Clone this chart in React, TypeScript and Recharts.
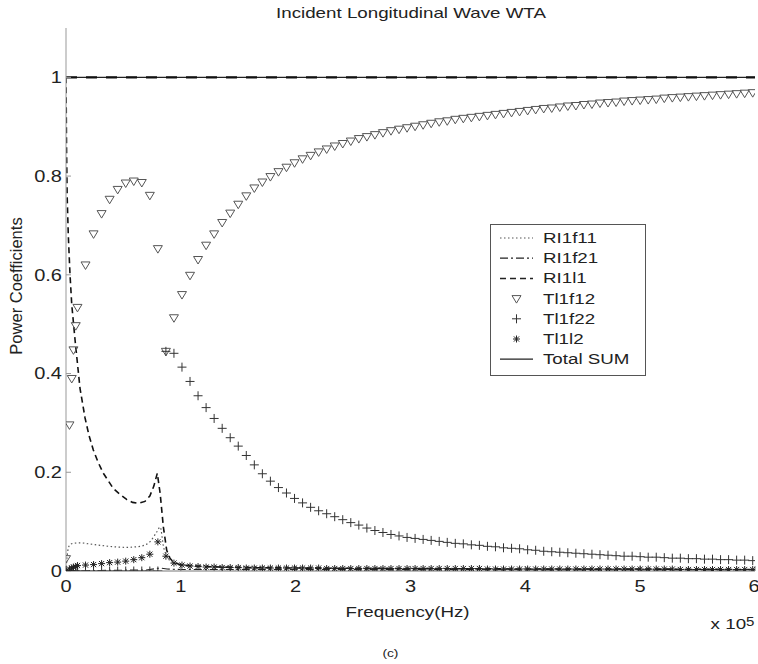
import { ComposedChart, Line, Scatter, XAxis, YAxis } from "recharts";

// frequency grid (x 10^5 Hz) used by the marker series
const freq = [
  0, 0.03, 0.05, 0.065, 0.085, 0.1,
  0.17, 0.24, 0.31, 0.38, 0.45, 0.52, 0.59, 0.66, 0.73, 0.8,
  0.87, 0.94, 1.01, 1.08, 1.15, 1.22, 1.29, 1.36, 1.43, 1.5,
  1.57, 1.64, 1.71, 1.78, 1.85, 1.92, 1.99, 2.06, 2.13, 2.2,
  2.27, 2.34, 2.41, 2.48, 2.55, 2.62, 2.69, 2.76, 2.83, 2.9,
  2.97, 3.04, 3.11, 3.18, 3.25, 3.32, 3.39, 3.46, 3.53, 3.6,
  3.67, 3.74, 3.81, 3.88, 3.95, 4.02, 4.09, 4.16, 4.23, 4.3,
  4.37, 4.44, 4.51, 4.58, 4.65, 4.72, 4.79, 4.86, 4.93, 5.0,
  5.07, 5.14, 5.21, 5.28, 5.35, 5.42, 5.49, 5.56, 5.63, 5.7,
  5.77, 5.84, 5.91, 5.98,
];

const tl1f12 = [
  0.025, 0.296, 0.39, 0.448, 0.497, 0.534,
  0.62, 0.683, 0.724, 0.753, 0.773, 0.786, 0.79, 0.787, 0.761, 0.653,
  0.445, 0.513, 0.56, 0.599, 0.631, 0.66, 0.683, 0.706, 0.725, 0.743,
  0.76, 0.776, 0.788, 0.799, 0.809, 0.818, 0.827, 0.835, 0.842, 0.849,
  0.855, 0.861, 0.866, 0.871, 0.876, 0.88, 0.884, 0.888, 0.892, 0.895,
  0.898, 0.901, 0.904, 0.907, 0.91, 0.912, 0.915, 0.917, 0.919, 0.921,
  0.923, 0.925, 0.927, 0.929, 0.931, 0.933, 0.935, 0.937, 0.938, 0.94,
  0.942, 0.943, 0.945, 0.946, 0.948, 0.949, 0.95, 0.952, 0.953, 0.954,
  0.955, 0.956, 0.958, 0.959, 0.96, 0.961, 0.962, 0.963, 0.964, 0.965,
  0.966, 0.967, 0.968, 0.969,
];

const tl1f22 = [
  0, 0, 0, 0, 0, 0,
  0, 0, 0, 0, 0, 0, 0, 0, 0, 0,
  0.445, 0.441, 0.413, 0.384, 0.355, 0.331, 0.309, 0.289, 0.27, 0.253,
  0.234, 0.215, 0.197, 0.182, 0.169, 0.158, 0.147, 0.138, 0.129, 0.122,
  0.116, 0.11, 0.104, 0.098, 0.093, 0.087, 0.082, 0.078, 0.074, 0.071,
  0.068, 0.066, 0.064, 0.062, 0.06, 0.058, 0.056, 0.055, 0.053, 0.052,
  0.05, 0.049, 0.047, 0.046, 0.045, 0.043, 0.042, 0.04, 0.039, 0.038,
  0.037, 0.036, 0.035, 0.034, 0.033, 0.032, 0.031, 0.03, 0.03, 0.029,
  0.028, 0.028, 0.027, 0.026, 0.026, 0.025, 0.025, 0.024, 0.024, 0.023,
  0.023, 0.022, 0.022, 0.021,
];

const tl1l2 = [
  0, 0.004, 0.006, 0.008, 0.009, 0.011,
  0.012, 0.013, 0.015, 0.017, 0.018, 0.02, 0.023, 0.027, 0.034, 0.059,
  0.03, 0.016, 0.012, 0.01, 0.009, 0.008, 0.008, 0.007, 0.007, 0.007,
  0.006, 0.006, 0.006, 0.006, 0.006, 0.006, 0.006, 0.006, 0.006, 0.006,
  0.005, 0.005, 0.005, 0.005, 0.005, 0.005, 0.005, 0.005, 0.005, 0.005,
  0.005, 0.005, 0.005, 0.005, 0.005, 0.005, 0.005, 0.005, 0.005, 0.005,
  0.004, 0.004, 0.004, 0.004, 0.004, 0.004, 0.004, 0.004, 0.004, 0.004,
  0.004, 0.004, 0.004, 0.004, 0.004, 0.004, 0.004, 0.004, 0.004, 0.004,
  0.004, 0.004, 0.004, 0.004, 0.003, 0.003, 0.003, 0.003, 0.003, 0.003,
  0.003, 0.003, 0.003, 0.003,
];

// line series, each on its own sampling
const ri1l1F = [0, 0.005, 0.01, 0.02, 0.035, 0.05, 0.078, 0.1, 0.122, 0.166, 0.2, 0.238, 0.28, 0.325, 0.37, 0.412, 0.47, 0.528, 0.58, 0.63, 0.688, 0.73, 0.765, 0.795, 0.82, 0.848, 0.877, 0.905, 0.935, 1.0, 1.2, 1.5, 2, 3, 4, 5, 6];
const ri1l1V = [1.0, 0.85, 0.76, 0.68, 0.6, 0.54, 0.47, 0.42, 0.37, 0.31, 0.275, 0.245, 0.22, 0.198, 0.182, 0.167, 0.155, 0.145, 0.139, 0.137, 0.141, 0.152, 0.172, 0.198, 0.157, 0.089, 0.042, 0.026, 0.018, 0.012, 0.009, 0.007, 0.006, 0.005, 0.004, 0.004, 0.003];

const ri1f11F = [0, 0.01, 0.03, 0.06, 0.122, 0.2, 0.3, 0.42, 0.53, 0.645, 0.73, 0.79, 0.82, 0.85, 0.88, 0.906, 1.0, 1.3, 1.8, 2.5, 3.5, 4.5, 6];
const ri1f11V = [0, 0.03, 0.052, 0.056, 0.057, 0.055, 0.052, 0.049, 0.048, 0.05, 0.059, 0.079, 0.089, 0.048, 0.03, 0.021, 0.013, 0.01, 0.008, 0.006, 0.005, 0.004, 0.003];

const ri1f21F = [0, 0.3, 0.7, 0.82, 0.88, 1.0, 2, 6];
const ri1f21V = [0, 0.001, 0.002, 0.006, 0.004, 0.003, 0.003, 0.002];

const totalF = [0, 6];
const totalV = [1, 1];

const xTicks = [0, 1, 2, 3, 4, 5, 6];
const yTicks = [0, 0.2, 0.4, 0.6, 0.8, 1];

const legendNames = ["RI1f11", "RI1f21", "RI1l1", "Tl1f12", "Tl1f22", "Tl1l2", "Total SUM"];

const pts = (xs: number[], ys: number[]) => xs.map((f, i) => ({ f, v: ys[i] }));

const FONT = "'Liberation Sans', Arial, Helvetica, sans-serif";
const WIDE = 1.25; // the source image is stretched horizontally

const triPath = (cx: number, cy: number) =>
  `M${cx - 4.5},${cy - 3} L${cx + 4.5},${cy - 3} L${cx},${cy + 4.5} Z`;
const plusPath = (cx: number, cy: number) =>
  `M${cx - 4.5},${cy} H${cx + 4.5} M${cx},${cy - 4.5} V${cy + 4.5}`;
const starPath = (cx: number, cy: number) =>
  `M${cx - 3.5},${cy} H${cx + 3.5} M${cx},${cy - 3.5} V${cy + 3.5} M${cx - 2.6},${cy - 2.6} L${cx + 2.6},${cy + 2.6} M${cx + 2.6},${cy - 2.6} L${cx - 2.6},${cy + 2.6}`;

const Tri = (p: any) => <path d={triPath(p.cx, p.cy)} fill="none" stroke="#555" strokeWidth={1} />;
const Plus = (p: any) => <path d={plusPath(p.cx, p.cy)} fill="none" stroke="#333" strokeWidth={1} />;
const Star = (p: any) => <path d={starPath(p.cx, p.cy)} fill="none" stroke="#222" strokeWidth={1} />;

const XTick = (p: any) => (
  <g transform={`translate(${p.x},${p.y})`}>
    <text transform={`scale(${WIDE},1)`} textAnchor="middle" dy="0.71em" fontSize={16} fontFamily={FONT} fill="#222">
      {p.payload.value}
    </text>
  </g>
);

const YTick = (p: any) => (
  <g transform={`translate(${p.x},${p.y})`}>
    <text transform={`scale(${WIDE},1)`} textAnchor="end" dy="0.36em" fontSize={16} fontFamily={FONT} fill="#222">
      {p.payload.value}
    </text>
  </g>
);

const LegendBox = () => {
  const rowY = (i: number) => 14 + i * 20.2;
  const sample = (i: number) => {
    const y = rowY(i);
    if (i === 0) return <line x1={10} x2={43} y1={y} y2={y} stroke="#555" strokeWidth={1.2} strokeDasharray="1.5 2.5" />;
    if (i === 1) return <line x1={10} x2={43} y1={y} y2={y} stroke="#222" strokeWidth={1.2} strokeDasharray="8 3 2 3" />;
    if (i === 2) return <line x1={10} x2={43} y1={y} y2={y} stroke="#222" strokeWidth={1.5} strokeDasharray="6 4" />;
    if (i === 3) return <path d={triPath(26.5, y)} fill="none" stroke="#555" />;
    if (i === 4) return <path d={plusPath(26.5, y)} fill="none" stroke="#333" />;
    if (i === 5) return <path d={starPath(26.5, y)} fill="none" stroke="#222" />;
    return <line x1={10} x2={43} y1={y} y2={y} stroke="#222" strokeWidth={1.3} />;
  };
  return (
    <svg width={156} height={152} style={{ position: "absolute", left: 490, top: 224 }}>
      <rect x={0.5} y={0.5} width={155} height={151} fill="#fff" stroke="#555" />
      {legendNames.map((n, i) => (
        <g key={n}>
          {sample(i)}
          <g transform={`translate(53,${rowY(i) + 5})`}>
            <text transform={`scale(${WIDE},1)`} fontSize={15} fontFamily={FONT} fill="#222">{n}</text>
          </g>
        </g>
      ))}
    </svg>
  );
};

const wideText = (text: any, cx: number, cy: number, size: number) => (
  <div style={{ position: "absolute", left: cx - 200, top: cy - size * 0.6, width: 400, textAlign: "center", fontSize: size, lineHeight: `${size * 1.2}px`, whiteSpace: "nowrap" }}>
    <span style={{ display: "inline-block", transform: `scaleX(${WIDE})` }}>{text}</span>
  </div>
);

export default function App() {
  return (
    <div style={{ position: "absolute", left: 0, top: 0, width: 758, height: 664, background: "#fff", fontFamily: FONT, color: "#222", overflow: "hidden" }}>
      <ComposedChart width={758} height={664} margin={{ top: 28, right: 3, bottom: 63, left: 16 }}>
        <XAxis
          type="number"
          dataKey="f"
          domain={[0, 6]}
          ticks={xTicks}
          allowDataOverflow
          height={30}
          stroke="#777"
          tickSize={-5}
          tickMargin={15}
          tick={XTick}
        />
        <YAxis
          type="number"
          domain={[0, 1.1]}
          ticks={yTicks}
          allowDataOverflow
          width={50}
          stroke="#999"
          tickSize={-5}
          tickMargin={9}
          tick={YTick}
        />
        <Line data={pts(ri1f11F, ri1f11V)} dataKey="v" name="RI1f11" type="monotone" stroke="#555" strokeWidth={1.2} strokeDasharray="1.5 2.5" dot={false} isAnimationActive={false} />
        <Line data={pts(ri1f21F, ri1f21V)} dataKey="v" name="RI1f21" type="linear" stroke="#222" strokeWidth={1.2} strokeDasharray="8 3 2 3" dot={false} isAnimationActive={false} />
        <Line data={pts(ri1l1F, ri1l1V)} dataKey="v" name="RI1l1" type="linear" stroke="#111" strokeWidth={1.6} strokeDasharray="6 4" dot={false} isAnimationActive={false} />
        <Line data={pts(totalF, totalV)} dataKey="v" name="Total SUM" type="linear" stroke="#222" strokeWidth={1.2} dot={false} isAnimationActive={false} />
        <Line data={pts(totalF, totalV)} dataKey="v" name="total overlay" legendType="none" type="linear" stroke="#111" strokeWidth={2.2} strokeDasharray="11 9" dot={false} isAnimationActive={false} />
        <Scatter data={pts(freq, tl1f12)} dataKey="v" name="Tl1f12" shape={Tri} isAnimationActive={false} />
        <Scatter data={pts(freq, tl1f22)} dataKey="v" name="Tl1f22" shape={Plus} isAnimationActive={false} />
        <Scatter data={pts(freq, tl1l2)} dataKey="v" name="Tl1l2" shape={Star} isAnimationActive={false} />
      </ComposedChart>
      <LegendBox />
      {wideText("Incident Longitudinal Wave WTA", 411, 13, 15)}
      {wideText("Frequency(Hz)", 408, 612, 15)}
      {wideText(<>x 10<sup style={{ fontSize: 12, position: "relative", top: -3, verticalAlign: "baseline" }}>5</sup></>, 733, 624, 15)}
      {wideText("(c)", 390, 654, 11)}
      <div style={{ position: "absolute", left: 16, top: 286, transform: "translate(-50%, -50%) rotate(-90deg)", whiteSpace: "nowrap", fontSize: 16.5 }}>
        Power Coefficients
      </div>
    </div>
  );
}
